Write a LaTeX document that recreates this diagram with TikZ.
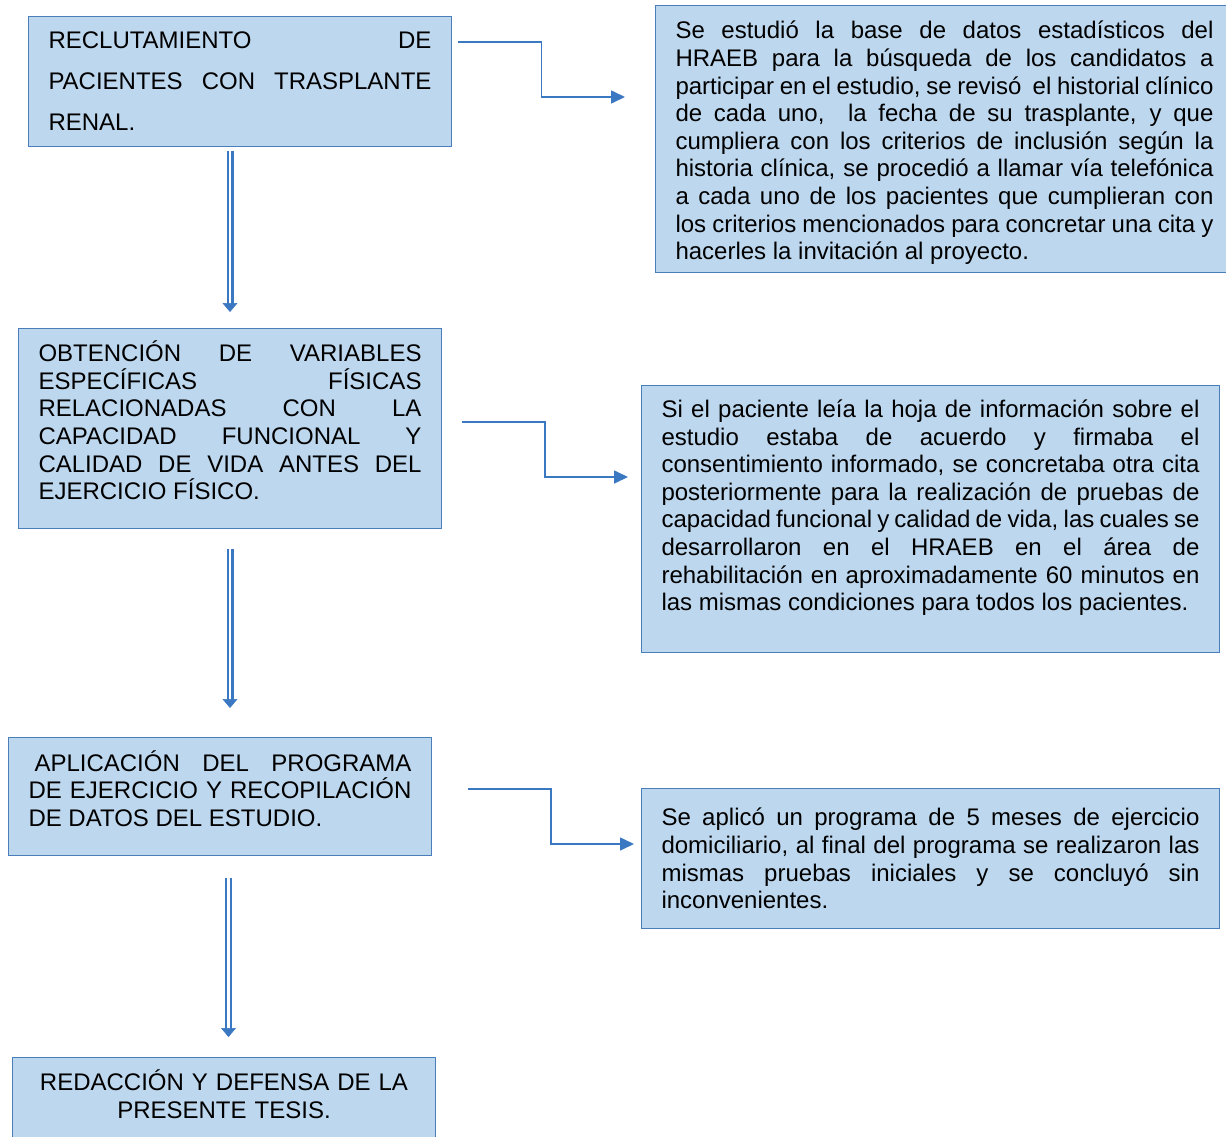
\documentclass[tikz,border=0pt]{standalone}
\usepackage{fontspec}
\setmainfont{Liberation Sans}
\usetikzlibrary{arrows.meta,calc,decorations.markings}
\definecolor{cajaazul}{HTML}{BDD7EE}
\definecolor{bordeazul}{HTML}{4A7EBB}
\definecolor{flechaazul}{HTML}{3B78C2}
\hyphenpenalty=10000
\begin{document}
\begin{tikzpicture}[x=1pt,y=-1pt,
  caja/.style={draw=bordeazul,fill=cajaazul,line width=1pt,anchor=north west,
    inner xsep=20pt,inner ysep=0pt,align=justify,font=\fontsize{24}{27.6}\selectfont},
  izq/.style={caja,text width=383pt,minimum width=423pt},
  der/.style={caja,text width=538pt,minimum width=578pt},
  flecha/.style={flechaazul,line width=1.6pt,-{Triangle[length=14pt,width=13pt]}},
  doble/.style={flechaazul,double=white,double distance=2.6pt,line width=2.2pt,shorten >=6pt,
    postaction={decorate,decoration={markings,
      mark=at position 1 with {\arrow[line width=0.6pt]{Triangle[length=9pt,width=15pt]}}}}}]
\useasboundingbox (0,0) rectangle (1226,1137);
% pasos del estudio
\node[izq,minimum height=130pt,font=\fontsize{24}{41}\selectfont] (rec) at (28,16)
  {RECLUTAMIENTO DE\linebreak PACIENTES CON TRASPLANTE\linebreak RENAL.};
\node[izq,minimum height=200pt] (obt) at (18,328)
  {OBTENCIÓN DE VARIABLES\linebreak ESPECÍFICAS FÍSICAS\linebreak RELACIONADAS CON LA\linebreak
   CAPACIDAD FUNCIONAL Y\linebreak CALIDAD DE VIDA ANTES DEL\linebreak EJERCICIO FÍSICO.\par\vspace{16pt}\hrule height 0pt};
\node[izq,minimum height=118pt] (apl) at (8,737)
  {\hspace*{6pt}APLICACIÓN DEL PROGRAMA\linebreak DE EJERCICIO Y RECOPILACIÓN\linebreak DE DATOS DEL ESTUDIO.\par\vspace{16pt}\hrule height 0pt};
\node[izq,minimum height=83pt,align=center] (red) at (12,1057)
  {REDACCIÓN Y DEFENSA DE LA\\ PRESENTE TESIS.\par\vspace{10pt}\hrule height 0pt};
% descripciones
\node[der,minimum height=267pt] (est) at (655,5)
  {Se estudió la base de datos estadísticos del\linebreak HRAEB para la búsqueda de los candidatos a\linebreak
   participar en el estudio, se revisó\ \ el historial clínico\linebreak de cada uno,\ \ la fecha de su trasplante, y que\linebreak
   cumpliera con los criterios de inclusión según la\linebreak historia clínica, se procedió a llamar vía telefónica\linebreak
   a cada uno de los pacientes que cumplieran con\linebreak los criterios mencionados para concretar una cita y\linebreak
   hacerles la invitación al proyecto.\par\vspace{-8pt}\hrule height 0pt};
\node[der,minimum height=267pt] (hoj) at (641,385)
  {Si el paciente leía la hoja de información sobre el\linebreak estudio estaba de acuerdo y firmaba el\linebreak
   consentimiento informado, se concretaba otra cita\linebreak posteriormente para la realización de pruebas de\linebreak
   capacidad funcional y calidad de vida, las cuales se\linebreak desarrollaron en el HRAEB en el área de\linebreak
   rehabilitación en aproximadamente 60 minutos en\linebreak las mismas condiciones para todos los pacientes.\par\mbox{}};
\node[der,minimum height=140pt] (pro) at (641,788)
  {Se aplicó un programa de 5 meses de ejercicio\linebreak domiciliario, al final del programa se realizaron las\linebreak
   mismas pruebas iniciales y se concluyó sin\linebreak inconvenientes.};
% flechas hacia las descripciones
\coordinate (s1) at ($(rec.north east)+(6,26)$);  \coordinate (e1) at ($(est.north west)+(-30,92)$);
\coordinate (s2) at ($(obt.north east)+(20,94)$); \coordinate (e2) at ($(hoj.north west)+(-13,92)$);
\coordinate (s3) at ($(apl.north east)+(36,52)$); \coordinate (e3) at ($(pro.north west)+(-7,56)$);
\draw[flecha] (s1) -| ($(s1)!.5!(e1)$) |- (e1);
\draw[flecha] (s2) -| ($(s2)!.5!(e2)$) |- (e2);
\draw[flecha] (s3) -| ($(s3)!.5!(e3)$) |- (e3);
% flechas entre pasos
\coordinate (a1) at ($(rec.south -| obt.north)+(0,4)$); \coordinate (b1) at ($(obt.north)+(0,-16)$);
\coordinate (a2) at ($(obt.south)+(0,20)$); \coordinate (b2) at ($(obt.south |- apl.north)+(0,-29)$);
\coordinate (a3) at ($(apl.south)+(8.5,22)$); \coordinate (b3) at ($(a3 |- red.north)+(0,-20)$);
\draw[doble] (a1) -- (b1);
\draw[doble] (a2) -- (b2);
\draw[doble] (a3) -- (b3);
\end{tikzpicture}
\end{document}
